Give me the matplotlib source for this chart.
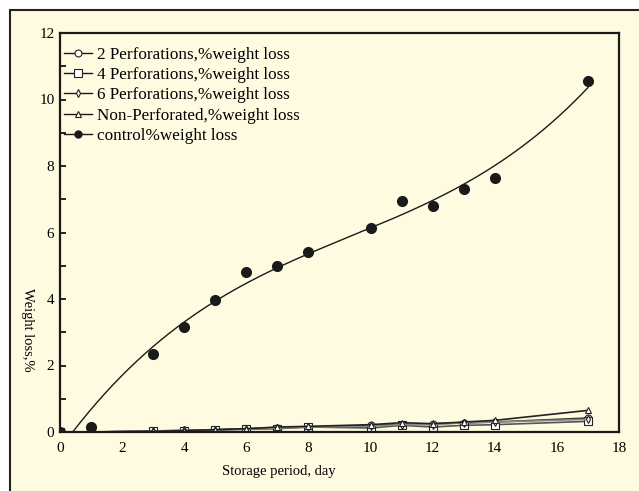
import numpy as np
import matplotlib.pyplot as plt
from matplotlib.patches import Rectangle
from matplotlib.lines import Line2D

plt.rcParams['font.family'] = ['Liberation Serif', 'DejaVu Serif']

# storage days
days = [0, 1, 3, 4, 5, 6, 7, 8, 10, 11, 12, 13, 14, 17]

# weight loss, %
perf2 = [0, 0, 0.03, 0.05, 0.07, 0.10, 0.12, 0.15, 0.20, 0.22, 0.25, 0.27, 0.30, 0.42]
perf4 = [0, 0, 0.02, 0.04, 0.06, 0.08, 0.10, 0.15, 0.12, 0.20, 0.15, 0.20, 0.22, 0.32]
perf6 = [0, 0, 0.03, 0.05, 0.06, 0.09, 0.12, 0.15, 0.18, 0.22, 0.22, 0.28, 0.30, 0.38]
non_perf = [0, 0, 0.02, 0.04, 0.07, 0.10, 0.15, 0.17, 0.22, 0.28, 0.25, 0.30, 0.35, 0.65]
control = [0, 0.15, 2.35, 3.15, 3.97, 4.80, 5.00, 5.40, 6.15, 6.95, 6.80, 7.30, 7.65, 10.55]

labels = ['2 Perforations,%weight loss', '4 Perforations,%weight loss',
          '6 Perforations,%weight loss', 'Non-Perforated,%weight loss',
          'control%weight loss']

cream = '#fefbe0'


def main():
    fig = plt.figure(figsize=(6.39, 4.91), dpi=100, facecolor='white')
    # cream panel with a dark border
    fig.patches.append(Rectangle((10 / 639, -0.1), 1.1, 1 - 10 / 491 + 0.1,
                                 transform=fig.transFigure, facecolor=cream,
                                 edgecolor='#222222', linewidth=1.5, zorder=-10))

    ax = fig.add_axes([60 / 639, 1 - 432 / 491, 559 / 639, 399 / 491])
    ax.set_facecolor(cream)

    x = np.array(days, dtype=float)

    # small series
    styles = [('o', 5, '#333333'), ('s', 6, '#555555'),
              ('d', 4, '#888888'), ('^', 5, '#222222')]
    handles = []
    for ys_, (m, ms, c), lab in zip([perf2, perf4, perf6, non_perf], styles, labels):
        ax.plot(x, ys_, color=c, lw=1.2, marker=m, ms=ms,
                mfc='white', mec='#222222', mew=0.8)
        handles.append(Line2D([], [], color='#1a1a1a', lw=1.0, marker=m, ms=ms,
                              mfc='white', mec='#222222', mew=0.8, label=lab))

    # control: points plus a smooth fitted curve
    ax.plot(x, control, 'o', color='#1a1a1a', ms=7)
    coef = np.polyfit(x, control, 3)
    xs = np.linspace(0, 17, 200)
    ys = np.clip(np.polyval(coef, xs), 0, None)
    ax.plot(xs, ys, color='#1a1a1a', lw=1.0)
    handles.append(Line2D([], [], color='#1a1a1a', lw=1.0, marker='o', ms=5,
                          label=labels[4]))

    ax.set_xlim(0, 18)
    ax.set_ylim(0, 12)
    ax.set_xticks(range(0, 19, 2))
    ax.set_yticks(range(0, 13, 2))
    ax.set_yticks(range(1, 12, 2), minor=True)
    ax.tick_params(axis='y', direction='in', length=4, width=1.2,
                   labelsize=11, pad=4, which='both')
    ax.tick_params(axis='x', length=0, labelsize=11, pad=7)
    for s in ax.spines.values():
        s.set_linewidth(1.6)
        s.set_color('#1a1a1a')

    fig.text(279 / 639, 1 - 472 / 491, 'Storage period, day',
             ha='center', va='center', fontsize=10.5)
    fig.text(27 / 639, 1 - 330 / 491, 'Weight loss,%', rotation=-90,
             ha='center', va='center', fontsize=10.5)

    ax.legend(handles=handles, loc='upper left', bbox_to_anchor=(0, 0.975),
              frameon=False, fontsize=12.3, handlelength=1.6,
              handletextpad=0.3, labelspacing=0.24, borderaxespad=0,
              borderpad=0.25)

    fig.savefig('out.png', dpi=100, facecolor=fig.get_facecolor())


if __name__ == '__main__':
    main()
